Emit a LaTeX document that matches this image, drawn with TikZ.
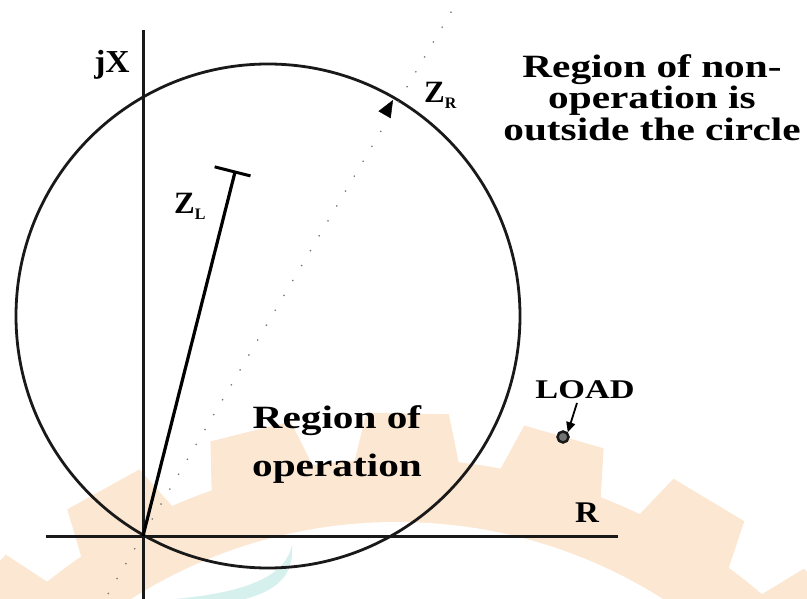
\documentclass[tikz,border=0pt]{standalone}
\usepackage{fontspec}
\setmainfont{Liberation Serif}
\usetikzlibrary{calc,arrows.meta}
\definecolor{wmorange}{RGB}{252,232,210}
\definecolor{wmcyan}{RGB}{214,240,238}
\newcommand{\wide}[2][1.27]{\scalebox{#1}[1]{#2}}
\tikzset{
  axisline/.style={line width=3pt, draw=black!90},
  lbl/.style={inner sep=0pt, font=\bfseries},
  dotline/.style={draw=black!55, line width=1.3pt, dash pattern=on 1.3pt off 16pt},
}
\begin{document}
\begin{tikzpicture}[x=1pt,y=-1pt]
\useasboundingbox (0,0) rectangle (807,599);
% watermark
\begin{scope}
  \clip (0,0) rectangle (807,599);
  \coordinate (G) at (397,1019);
  \fill[wmorange] (G) circle (560pt);
  \foreach \a in {29,44,...,149}{
    \fill[wmorange] ($(G)+({-\a+5.5}:555)$) -- ($(G)+({-\a+3.9}:607)$) -- ($(G)+({-\a-3.9}:607)$) -- ($(G)+({-\a-5.5}:555)$) -- cycle;
  }
  \fill[white] (G) circle (497pt);
  \fill[wmcyan] (292,545) .. controls (286,575) and (250,592) .. (175,599) -- (245,599) .. controls (278,590) and (294,575) .. cycle;
\end{scope}
% axes
\coordinate (O) at (143,536);
\coordinate (ytop) at (143,30);
\coordinate (ybot) at (143,599);
\coordinate (xl) at (46,536);
\coordinate (xr) at (618,536);
\draw[axisline] (ytop) -- (ybot);
\draw[axisline] (xl) -- (xr);
% circle
\node[circle, draw=black!90, line width=2.8pt, minimum size=504pt, inner sep=0pt] (mho) at (268,316) {};
% dotted diameter line
\coordinate (d1) at (108,594);
\coordinate (d2) at (457,2);
\draw[dotline] (d1) -- (d2);
% Z_R arrow head
\coordinate (zr) at (393,100);
\draw[line width=0.4pt, -{Triangle[length=17pt,width=14pt]}] ($(zr)!17pt!(O)$) -- (zr);
% Z_L
\coordinate (zl) at (235,172);
\draw[line width=3.2pt] (O) -- (zl);
\draw[line width=3pt] ($(zl)!16pt!90:(O)$) -- ($(zl)!21pt!-90:(O)$);
% labels
\node[lbl, font=\bfseries\fontsize{32}{32}\selectfont] (jx) at (112,65) {\wide[1.05]{jX}};
\node[lbl, font=\bfseries\fontsize{31}{31}\selectfont, anchor=base west] (zrl) at (424,103) {Z\raisebox{-6pt}{\fontsize{16}{16}\selectfont R}};
\node[lbl, font=\bfseries\fontsize{31}{31}\selectfont, anchor=base west] (zll) at (174,214) {Z\raisebox{-6pt}{\fontsize{16}{16}\selectfont L}};
\node[lbl, font=\bfseries\fontsize{32.5}{29.5}\selectfont] (nonop) at (652,101.6)
  {\wide{\begin{tabular}{@{}c@{}}Region of non-\\operation is\\outside the circle\end{tabular}}};
\node[lbl, font=\bfseries\fontsize{32.5}{48}\selectfont] (op) at (337,443)
  {\wide{\begin{tabular}{@{}c@{}}Region of\\operation\end{tabular}}};
\node[lbl, font=\bfseries\fontsize{27}{27}\selectfont, anchor=base] (loadl) at (585,398) {\wide{LOAD}};
\node[lbl, font=\bfseries\fontsize{30}{30}\selectfont] (rl) at (587,513) {\wide[1.1]{R}};
% load
\node[circle, draw=black!90, line width=2.5pt, fill=black!55, minimum size=11pt, inner sep=0pt] (load) at (563,437) {};
\coordinate (lt) at (577,403);
\draw[line width=1.8pt, -{Triangle[length=10pt,width=9pt]}] (lt) -- (load.north east);
\end{tikzpicture}
\end{document}
